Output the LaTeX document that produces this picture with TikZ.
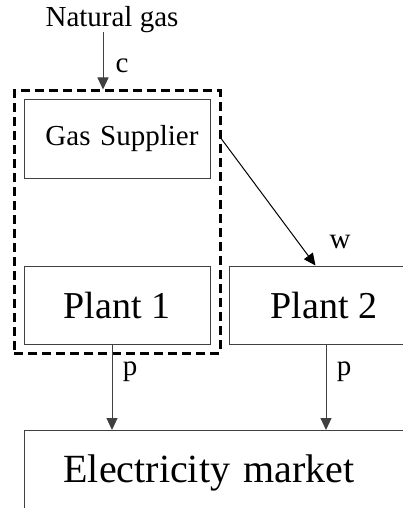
\documentclass[tikz,border=0pt]{standalone}
\usepackage{fontspec}
\setmainfont{Liberation Serif}
\usetikzlibrary{arrows.meta}
\begin{document}
\begin{tikzpicture}[x=1pt,y=-1pt,
  box/.style={draw=black!75,line width=1pt,inner sep=0pt},
  arr/.style={draw=black!75,line width=1pt,-{Triangle[length=12pt,width=11pt]}},
  small/.style={font=\fontsize{29}{33}\selectfont,inner sep=0pt},
  mid/.style={font=\fontsize{38}{44}\selectfont},
  big/.style={font=\fontsize{40}{46}\selectfont},
  grp/.style={draw=black,line width=3pt,dash pattern=on 9pt off 5pt,inner sep=0pt}]
\useasboundingbox (0,0) rectangle (403,508);
\clip (0,0) rectangle (403,508);
% nodes
\node[small] (ng) at (112,20) {Natural gas};
\node[grp,minimum width=206pt,minimum height=262pt] (group) at (117,222) {};
\node[box,minimum width=186pt,minimum height=78pt,font=\fontsize{29}{33}\selectfont,text width=176pt,align=center] (gs) at (117,139) {\hspace*{10pt}Gas Supplier};
\node[box,mid,minimum width=186pt,minimum height=78pt] (p1) at (117,305) {Plant 1};
\node[box,mid,minimum width=190pt,minimum height=78pt] (p2) at (324,305) {Plant 2};
\node[box,big,anchor=north west,minimum width=408pt,minimum height=84pt,text width=330pt,inner xsep=39pt,align=left] (mk) at (24,430) {Electricity market};
% labels
\node[small] (lc) at (122,66) {c};
\node[small] (lw) at (340,242) {w};
\node[small] (lp1) at (130,372) {p};
\node[small] (lp2) at (344,372) {p};
% connectors
\coordinate (cin) at (103,32);
\draw[arr] (cin) -- (cin |- group.north);
\path (p2.north west) ++(87,0) coordinate (wend);
\draw[arr,draw=black] (gs.east -| group.east) -- (wend);
\path (p1.south) ++(-5,0) coordinate (p1s);
\draw[arr] (p1s) -- (p1s |- mk.north);
\path (p2.south) ++(2,0) coordinate (p2s);
\draw[arr] (p2s) -- (p2s |- mk.north);
\end{tikzpicture}
\end{document}
